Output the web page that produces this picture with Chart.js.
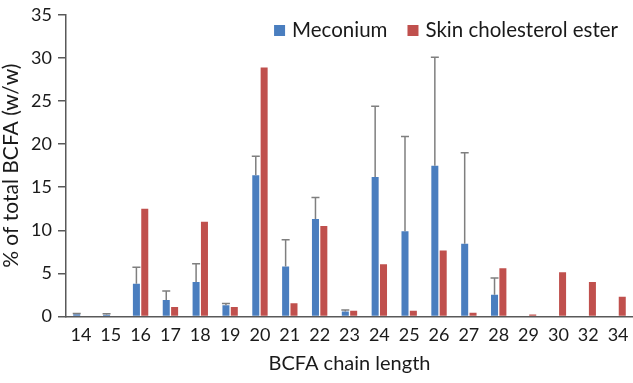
<!DOCTYPE html>
<html>
<head>
<meta charset="utf-8">
<script src="https://cdn.jsdelivr.net/npm/chart.js@4.4.1/dist/chart.umd.min.js"></script>
<style>
  html, body { margin: 0; padding: 0; background: #ffffff; overflow: hidden; }
  #wrap { width: 633px; height: 383px; position: relative; }
</style>
</head>
<body>
<div id="wrap"><canvas id="c"></canvas></div>
<script>
const categories = ["14","15","16","17","18","19","20","21","22","23","24","25","26","27","28","29","30","32","34"];
const meconium = [0.25, 0.2, 3.8, 1.9, 4.0, 1.3, 16.4, 5.8, 11.3, 0.58, 16.2, 9.9, 17.5, 8.45, 2.5, null, null, null, null];
const meconiumSD = [0.1, 0.1, 1.9, 1.05, 2.1, 0.2, 2.2, 3.1, 2.5, 0.16, 8.2, 11.0, 12.6, 10.55, 1.95, null, null, null, null];
const skinCE = [null, null, 12.5, 1.1, 11.0, 1.1, 28.9, 1.54, 10.5, 0.66, 6.06, 0.66, 7.64, 0.43, 5.6, 0.23, 5.14, 3.99, 2.27];
const yTicks = [0, 5, 10, 15, 20, 25, 30, 35];

const FONT = "Lato, 'Open Sans', sans-serif";
const AXIS = '#595959';
const TEXT = '#1a1a1a';

const errorBars = {
  id: 'errorBars',
  afterDatasetsDraw(chart) {
    const ctx = chart.ctx;
    const yScale = chart.scales.y;
    chart.data.datasets.forEach((ds, di) => {
      if (!ds.errors) return;
      const meta = chart.getDatasetMeta(di);
      ctx.save();
      ctx.strokeStyle = '#7f7f7f';
      ctx.lineWidth = 1.5;
      meta.data.forEach((bar, i) => {
        const v = ds.data[i], e = ds.errors[i];
        if (v == null || e == null) return;
        const x = bar.x;
        const y0 = yScale.getPixelForValue(v);
        const y1 = yScale.getPixelForValue(v + e);
        ctx.beginPath();
        ctx.moveTo(x, y0);
        ctx.lineTo(x, y1);
        ctx.moveTo(x - 4, y1);
        ctx.lineTo(x + 4, y1);
        ctx.stroke();
      });
      ctx.restore();
    });
  }
};

// Legend drawn inside the plot area, near its top-right
const insideLegend = {
  id: 'insideLegend',
  afterDraw(chart) {
    const ctx = chart.ctx;
    const area = chart.chartArea;
    ctx.save();
    ctx.font = "20.5px " + FONT;
    ctx.textBaseline = 'middle';
    const box = 11, gapText = 7, gapItem = 20;
    const items = chart.data.datasets.map(ds => ({ label: ds.label, color: ds.backgroundColor, w: ctx.measureText(ds.label).width }));
    const total = items.reduce((s, it) => s + box + gapText + it.w, 0) + gapItem * (items.length - 1);
    let x = area.right - 15 - total;
    const cy = area.top + 15.5;
    items.forEach(it => {
      ctx.fillStyle = it.color;
      ctx.fillRect(x, cy - box / 2, box, box);
      x += box + gapText;
      ctx.fillStyle = TEXT;
      ctx.fillText(it.label, x, cy);
      x += it.w + gapItem;
    });
    ctx.restore();
  }
};

new Chart(document.getElementById('c'), {
  type: 'bar',
  data: {
    labels: categories,
    datasets: [
      { label: 'Meconium', data: meconium, errors: meconiumSD, backgroundColor: '#4a7ebf',
        categoryPercentage: 0.56, barPercentage: 0.84 },
      { label: 'Skin cholesterol ester', data: skinCE, backgroundColor: '#c0504d',
        categoryPercentage: 0.56, barPercentage: 0.84 }
    ]
  },
  options: {
    responsive: true,
    maintainAspectRatio: false,
    animation: false,
    layout: { padding: { top: 9, right: 0, bottom: 9, left: 0 } },
    plugins: {
      legend: { display: false },
      tooltip: { enabled: false }
    },
    scales: {
      x: {
        afterFit(scale) { scale.paddingRight = 0; },
        grid: { display: false, drawTicks: false },
        border: { display: true, color: AXIS, width: 1.5 },
        ticks: { font: { family: FONT, size: 18 }, color: TEXT, padding: 8, maxRotation: 0, autoSkip: false },
        title: { display: true, text: 'BCFA chain length', font: { family: FONT, size: 20, lineHeight: 1.0 }, color: TEXT, padding: { top: 0, bottom: 0 } }
      },
      y: {
        min: 0, max: 35,
        afterBuildTicks(scale) { scale.ticks = yTicks.map(v => ({ value: v })); },
        grid: { display: true, drawOnChartArea: false, drawTicks: true, tickLength: 8, color: AXIS, lineWidth: 1.5 },
        border: { display: true, color: AXIS, width: 1.5 },
        ticks: { font: { family: FONT, size: 18, lineHeight: 1.0 }, color: TEXT, padding: 6 },
        title: { display: true, text: '% of total BCFA (w/w)', font: { family: FONT, size: 21, lineHeight: 1.1 }, color: TEXT, padding: { top: 0, bottom: 2 } }
      }
    }
  },
  plugins: [errorBars, insideLegend]
});
</script>
</body>
</html>
